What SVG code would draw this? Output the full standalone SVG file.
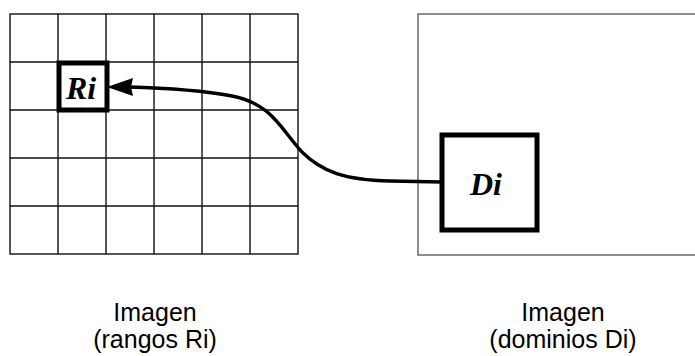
<svg xmlns="http://www.w3.org/2000/svg" width="695" height="356" viewBox="0 0 695 356">
<style>
.grid{fill:none;stroke:#111;stroke-width:1.4}
.frame{fill:none;stroke:#555;stroke-width:1.3}
.box{fill:#fff;stroke:#000;stroke-width:5}
.lbl{font-family:"Liberation Serif",serif;font-weight:bold;font-style:italic;font-size:32px;fill:#000}
.cap{font-family:"Liberation Sans",Arial,sans-serif;font-size:25px;fill:#000;text-anchor:middle}
.conn{fill:none;stroke:#000;stroke-width:3.4}
</style>
<rect width="695" height="356" fill="#fff"/>
<g id="rangos">
<rect class="grid" x="10" y="14" width="288" height="240"/>
<path class="grid" d="M58 14V254M106 14V254M154 14V254M202 14V254M250 14V254M10 62H298M10 110H298M10 158H298M10 206H298"/>
<text class="cap" x="155" y="321">Imagen</text>
<text class="cap" x="155" y="348">(rangos Ri)</text>
</g>
<g id="dominios">
<rect class="frame" x="418" y="14" width="300" height="241"/>
<text class="cap" x="563" y="321">Imagen</text>
<text class="cap" x="563" y="348">(dominios Di)</text>
</g>
<g id="Ri">
<rect class="box" x="59" y="63" width="48" height="47"/>
<text class="lbl" x="66" y="99">Ri</text>
</g>
<g id="Di">
<rect class="box" x="442" y="135" width="95" height="95"/>
<text class="lbl" x="470" y="195">Di</text>
</g>
<g id="connectors">
<path class="conn" d="M442 182 L390 181 C345 180 322 172 302 152 C280 128 272 104 232 96 C200 90 165 88 128 87"/>
<polygon points="107,87 133,78 131,87 133,96" fill="#000"/>
</g>
</svg>
